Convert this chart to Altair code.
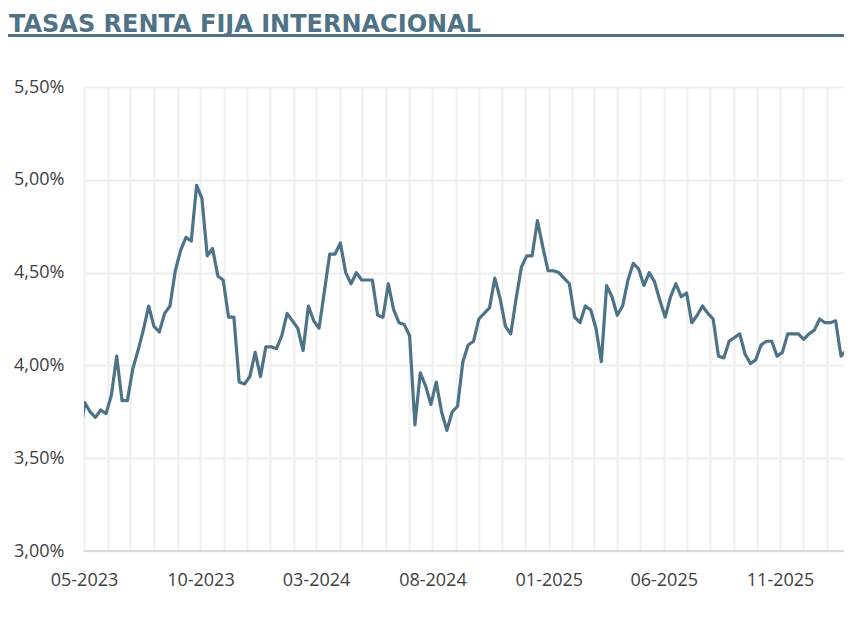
import altair as alt
import pandas as pd

title_text = "TASAS RENTA FIJA INTERNACIONAL"

# weekly observations, first one (2023-04-25) falls just before the axis start
start_date = "2023-04-25"
rates = [
    3.60, 3.80, 3.75, 3.72, 3.76, 3.74, 3.84, 4.05, 3.81, 3.81,
    3.98, 4.08, 4.19, 4.32, 4.21, 4.18, 4.28, 4.32, 4.51, 4.62,
    4.69, 4.67, 4.97, 4.90, 4.59, 4.63, 4.48, 4.46, 4.26, 4.26,
    3.91, 3.90, 3.94, 4.07, 3.94, 4.10, 4.10, 4.09, 4.16, 4.28,
    4.24, 4.20, 4.08, 4.32, 4.24, 4.20, 4.40, 4.60, 4.60, 4.66,
    4.50, 4.44, 4.50, 4.46, 4.46, 4.46, 4.27, 4.26, 4.44, 4.30,
    4.23, 4.22, 4.16, 3.68, 3.96, 3.89, 3.79, 3.91, 3.75, 3.65,
    3.75, 3.78, 4.02, 4.11, 4.13, 4.25, 4.28, 4.31, 4.47, 4.36,
    4.21, 4.17, 4.36, 4.53, 4.59, 4.59, 4.78, 4.64, 4.51, 4.51,
    4.50, 4.47, 4.44, 4.26, 4.23, 4.32, 4.30, 4.20, 4.02, 4.43,
    4.37, 4.27, 4.32, 4.46, 4.55, 4.52, 4.43, 4.50, 4.45, 4.35,
    4.26, 4.37, 4.44, 4.37, 4.39, 4.23, 4.27, 4.32, 4.28, 4.25,
    4.05, 4.04, 4.13, 4.15, 4.17, 4.06, 4.01, 4.03, 4.11, 4.13,
    4.13, 4.05, 4.07, 4.17, 4.17, 4.17, 4.14, 4.17, 4.19, 4.25,
    4.23, 4.23, 4.24, 4.05, 4.08, 3.97,
]
dates = pd.date_range(start_date, periods=len(rates), freq="7D")
df = pd.DataFrame({"fecha": dates, "tasa": rates})

y_ticks = [3.0, 3.5, 4.0, 4.5, 5.0, 5.5]
month_ticks = [
    alt.DateTime(year=2023 + (4 + i) // 12, month=(4 + i) % 12 + 1, date=1)
    for i in range(33)
]

LINE = "#4d7388"
TITLE = "#4f7287"
GRID = "#efefef"
TXT = "#404040"
FONT = "Open Sans"

W, H = 760, 464

line = alt.Chart(df).mark_line(
    color=LINE, strokeWidth=3.2, clip=True, strokeJoin="round"
).encode(
    x=alt.X(
        "fecha:T",
        scale=alt.Scale(domain=[alt.DateTime(year=2023, month=5, date=1),
                                alt.DateTime(year=2026, month=1, date=24)]),
        axis=alt.Axis(
            values=month_ticks,
            labelExpr="(year(datum.value)*12 + month(datum.value) - 24280) % 5 == 0 ? timeFormat(datum.value, '%m-%Y') : ''",
            title=None, grid=True, gridColor=GRID, gridWidth=2,
            domain=False, ticks=False, tickSize=0, labelPadding=20,
            labelFont=FONT, labelFontSize=18, labelColor=TXT,
            labelOverlap=False, labelFlush=False, labelBound=False,
        ),
    ),
    y=alt.Y(
        "tasa:Q",
        scale=alt.Scale(domain=[3.0, 5.5], nice=False, zero=False),
        axis=alt.Axis(
            values=y_ticks,
            labelExpr="replace(format(datum.value, '.2f'), '.', ',') + '%'",
            title=None, grid=True, gridColor=GRID, gridWidth=2,
            domain=False, ticks=False, tickSize=0, labelPadding=20,
            labelFont=FONT, labelFontSize=18, labelColor=TXT,
        ),
    ),
)

base_rule = alt.Chart(pd.DataFrame({"a": [0]})).mark_rule(
    color="#d9d9d9", strokeWidth=2
).encode(x=alt.value(0), x2=alt.value(W), y=alt.value(H))

title_chart = alt.Chart(pd.DataFrame({"t": [title_text]})).mark_text(
    align="left", baseline="alphabetic", font="DejaVu Sans", fontSize=24,
    fontWeight="bold", color=TITLE
).encode(text="t:N", x=alt.value(-75), y=alt.value(-55.5))

title_rule = alt.Chart(pd.DataFrame({"a": [0]})).mark_rule(
    color=TITLE, strokeWidth=3
).encode(x=alt.value(-84), x2=alt.value(W), y=alt.value(-51.5))

chart = alt.layer(title_chart, title_rule, line, base_rule).properties(
    width=W, height=H,
    padding={"left": 76, "top": 79, "right": 0, "bottom": 40},
    autosize="none",
    background="white",
).configure_view(stroke=None)

chart.save("out.html", embed_options={"renderer": "svg", "actions": False})
